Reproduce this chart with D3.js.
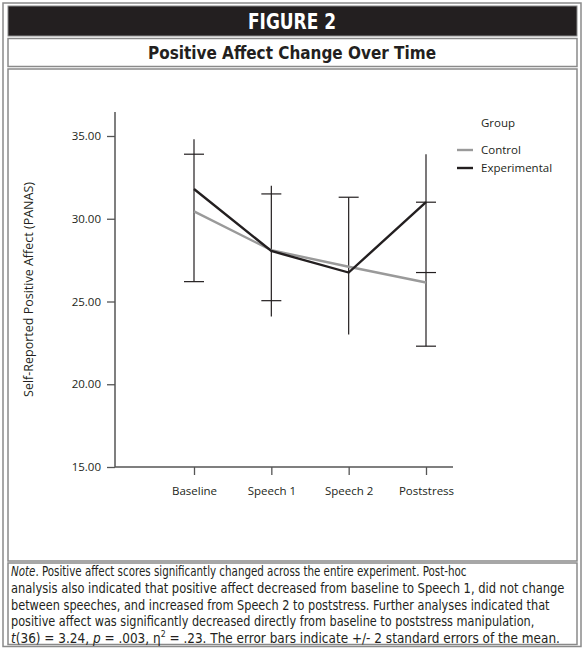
<!DOCTYPE html>
<html><head><meta charset="utf-8">
<script src="https://cdn.jsdelivr.net/npm/d3@7"></script>
<style>
body{margin:0;background:#fff;}
svg{display:block;}
</style></head>
<body>
<script>
// ---- data ----
const categories = ["Baseline", "Speech 1", "Speech 2", "Poststress"];
const controlMeans = [30.45, 28.1, 27.1, 26.15];
const experimentalMeans = [31.8, 28.05, 26.75, 31.0];
const whiskerLow = [26.2, 24.1, 23.0, 22.3];
const whiskerHigh = [34.8, 32.0, 31.3, 33.9];
const capValues = [[33.9, 26.2], [31.5, 25.05], [31.3], [31.0, 26.75, 22.3]];
const yTicks = [15, 20, 25, 30, 35];
const groups = ["Control", "Experimental"];
const groupColors = ["#9a9a9a", "#231f20"];

const W = 584, H = 648;
const svg = d3.select("body").append("svg").attr("width", W).attr("height", H);

const chartFont = "'Open Sans', 'Noto Sans', sans-serif";
const condFont = "'Liberation Sans Narrow', 'DejaVu Sans Condensed', 'Roboto', sans-serif";
const ink = "#231f20";

// ---- frames ----
svg.append("rect").attr("x", 3).attr("y", 3).attr("width", 578).attr("height", 643.5)
  .attr("fill", "none").attr("stroke", "#8a8a8a").attr("stroke-width", 1.5);
svg.append("rect").attr("x", 8).attr("y", 6).attr("width", 569).attr("height", 30)
  .attr("fill", ink).attr("stroke", "#8a8a8a").attr("stroke-width", 1);
svg.append("rect").attr("x", 8).attr("y", 38.5).attr("width", 569).attr("height", 28)
  .attr("fill", "none").attr("stroke", "#8a8a8a").attr("stroke-width", 1.5);
svg.append("rect").attr("x", 8).attr("y", 69).attr("width", 569).attr("height", 492)
  .attr("fill", "none").attr("stroke", "#8a8a8a").attr("stroke-width", 1.5);
svg.append("rect").attr("x", 8).attr("y", 563).attr("width", 569).attr("height", 81.5)
  .attr("fill", "none").attr("stroke", "#8a8a8a").attr("stroke-width", 1.5);

svg.append("text").attr("x", 292).attr("y", 29).attr("text-anchor", "middle")
  .attr("font-family", condFont).attr("font-weight", "bold").attr("font-size", 21)
  .attr("fill", "#fff").attr("textLength", 88).attr("lengthAdjust", "spacingAndGlyphs")
  .text("FIGURE 2");
svg.append("text").attr("x", 292).attr("y", 59).attr("text-anchor", "middle")
  .attr("font-family", condFont).attr("font-weight", "bold").attr("font-size", 18.5)
  .attr("fill", ink).attr("textLength", 288).attr("lengthAdjust", "spacingAndGlyphs")
  .text("Positive Affect Change Over Time");

// ---- scales ----
const axisLeftX = 115, axisRightX = 453, axisTopY = 112;
const y = d3.scaleLinear().domain([15, 35]).range([467, 136]);
const x = d3.scalePoint().domain(categories).range([194, 426]);

const g = svg.append("g");
const fs = 11.5;

// y axis
const yAx = g.append("g").attr("transform", `translate(${axisLeftX},0)`)
  .call(d3.axisLeft(y).tickValues(yTicks).tickFormat(d3.format(".2f")).tickSize(8).tickSizeOuter(0).tickPadding(6));
yAx.select(".domain").remove();
yAx.selectAll("line").attr("stroke", "#555").attr("stroke-width", 1.3);
yAx.selectAll("text").attr("font-family", chartFont).attr("font-size", fs).attr("fill", ink);
g.append("line").attr("x1", axisLeftX).attr("x2", axisLeftX).attr("y1", axisTopY).attr("y2", y(15))
  .attr("stroke", "#555").attr("stroke-width", 1.5);

// x axis
const xAx = g.append("g").attr("transform", `translate(0,${y(15)})`)
  .call(d3.axisBottom(x).tickSize(8).tickSizeOuter(0).tickPadding(12));
xAx.select(".domain").remove();
xAx.selectAll("line").attr("stroke", "#555").attr("stroke-width", 1.3);
xAx.selectAll("text").attr("font-family", chartFont).attr("font-size", fs).attr("fill", ink);
g.append("line").attr("x1", axisLeftX).attr("x2", axisRightX).attr("y1", y(15)).attr("y2", y(15))
  .attr("stroke", "#555").attr("stroke-width", 1.5);

// y axis title
g.append("text").attr("transform", `translate(33,${(axisTopY + y(15)) / 2}) rotate(-90)`)
  .attr("text-anchor", "middle").attr("font-family", chartFont).attr("font-size", 12.5)
  .attr("fill", ink).text("Self-Reported Positive Affect (PANAS)");

// error bars
const eb = g.append("g").attr("stroke", ink).attr("stroke-width", 1.2);
categories.forEach((c, i) => {
  eb.append("line").attr("x1", x(c)).attr("x2", x(c)).attr("y1", y(whiskerHigh[i])).attr("y2", y(whiskerLow[i]));
  capValues[i].forEach(v => {
    eb.append("line").attr("x1", x(c) - 10).attr("x2", x(c) + 10).attr("y1", y(v)).attr("y2", y(v));
  });
});

// lines
const line = d3.line().x((d, i) => x(categories[i])).y(d => y(d));
[controlMeans, experimentalMeans].forEach((s, k) => {
  g.append("path").datum(s).attr("d", line).attr("fill", "none")
    .attr("stroke", groupColors[k]).attr("stroke-width", 2.4).attr("stroke-linejoin", "miter");
});

// legend
const lg = g.append("g").attr("font-family", chartFont).attr("font-size", fs).attr("fill", ink);
lg.append("text").attr("x", 481).attr("y", 127).text("Group");
groups.forEach((name, k) => {
  const yy = 150 + k * 18;
  lg.append("line").attr("x1", 457).attr("x2", 473).attr("y1", yy).attr("y2", yy)
    .attr("stroke", groupColors[k]).attr("stroke-width", 2.4);
  lg.append("text").attr("x", 481).attr("y", yy + 4).text(name);
});

// ---- note ----
const noteLines = [
  [["Note", true], [". Positive affect scores significantly changed across the entire experiment. Post-hoc", false]],
  [["analysis also indicated that positive affect decreased from baseline to Speech 1, did not change", false]],
  [["between speeches, and increased from Speech 2 to poststress. Further analyses indicated that", false]],
  [["positive affect was significantly decreased directly from baseline to poststress manipulation,", false]],
  [["t", true], ["(36) = 3.24, ", false], ["p", true], [" = .003, η", false], ["2", false, true], [" = .23. The error bars indicate +/- 2 standard errors of the mean.", false]]
];
const noteWidths = [456, 554, 539, 524, 549];
noteLines.forEach((parts, i) => {
  const t = svg.append("text").attr("x", 11).attr("y", 576 + i * 16.8)
    .attr("font-family", condFont).attr("font-size", 14).attr("fill", ink);
  parts.forEach((p, j) => {
    const ts = t.append("tspan").text(p[0]);
    if (p[1]) ts.attr("font-style", "italic");
    if (p[2]) ts.attr("font-size", 9).attr("dy", -6);
    else if (j > 0 && parts[j - 1][2]) ts.attr("dy", 6);
  });
  // scale the line to the measured width of the reference line
  const w = t.node().getComputedTextLength();
  const k = noteWidths[i] / w;
  t.attr("transform", `translate(11,0) scale(${k},1) translate(-11,0)`);
});
</script>
</body></html>
